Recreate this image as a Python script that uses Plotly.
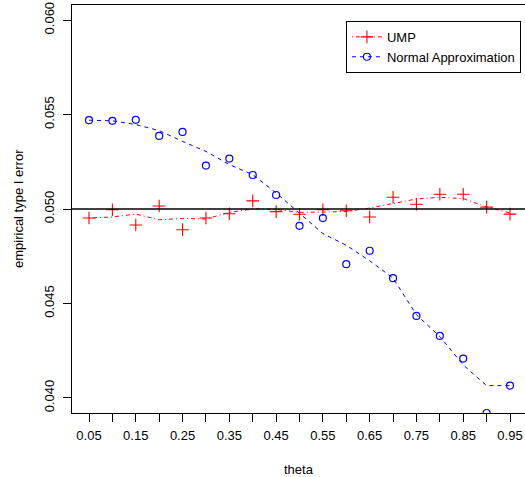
import plotly.graph_objects as go

theta = [0.05, 0.10, 0.15, 0.20, 0.25, 0.30, 0.35, 0.40, 0.45, 0.50,
         0.55, 0.60, 0.65, 0.70, 0.75, 0.80, 0.85, 0.90, 0.95]
ump = [0.04952, 0.04996, 0.04915, 0.05016, 0.04890, 0.04952, 0.04975, 0.05043, 0.04986, 0.04972,
       0.04996, 0.04991, 0.04958, 0.05062, 0.05025, 0.05078, 0.05078, 0.05010, 0.04973]
normal = [0.05470, 0.05467, 0.05472, 0.05387, 0.05408, 0.05230, 0.05267, 0.05180, 0.05074, 0.04911,
          0.04952, 0.04708, 0.04779, 0.04634, 0.04434, 0.04328, 0.04208, 0.03920, 0.04065]
ump_smooth = [0.04952, 0.04958, 0.04973, 0.04943, 0.04950, 0.04947, 0.04982, 0.05000, 0.04998, 0.04982,
              0.04984, 0.04987, 0.05005, 0.05028, 0.05053, 0.05062, 0.05055, 0.05011, 0.04979]
normal_smooth = [0.05470, 0.05467, 0.05447, 0.05415, 0.05358, 0.05305, 0.05235, 0.05182, 0.05085, 0.04979,
                 0.04870, 0.04808, 0.04726, 0.04634, 0.04440, 0.04325, 0.04174, 0.04065, 0.04065]

x_ticks = theta
x_ticktext = ["0.05", "", "0.15", "", "0.25", "", "0.35", "", "0.45", "",
              "0.55", "", "0.65", "", "0.75", "", "0.85", "", "0.95"]
y_ticks = [0.040, 0.045, 0.050, 0.055, 0.060]
y_ticktext = ["0.040", "0.045", "0.050", "0.055", "0.060"]

RED = "#FF0000"
BLUE = "#0000FF"
FONT = "Liberation Sans, Arial, Helvetica, sans-serif"

fig = go.Figure()

# smoothed lines (not in legend)
fig.add_trace(go.Scatter(x=theta, y=ump_smooth, mode="lines", showlegend=False,
                         line=dict(color=RED, width=1, dash="1px,3px,4px,3px"), hoverinfo="skip"))
fig.add_trace(go.Scatter(x=theta, y=normal_smooth, mode="lines", showlegend=False,
                         line=dict(color=BLUE, width=1, dash="4px,4px"), hoverinfo="skip"))

# points
fig.add_trace(go.Scatter(x=theta, y=ump, mode="markers", name="UMP",
                         marker=dict(symbol="cross-thin-open", size=9, color=RED,
                                     line=dict(color=RED, width=1.1)),
                         showlegend=False))
fig.add_trace(go.Scatter(x=theta, y=normal, mode="markers", name="Normal Approximation",
                         marker=dict(symbol="circle-open", size=7, color=BLUE,
                                     line=dict(color=BLUE, width=1.2)),
                         showlegend=False))

# legend entries
fig.add_trace(go.Scatter(x=[None], y=[None], mode="lines+markers", name="UMP",
                         line=dict(color=RED, width=1, dash="1px,3px,4px,3px"),
                         marker=dict(symbol="cross-thin-open", size=9, color=RED,
                                     line=dict(color=RED, width=1.1))))
fig.add_trace(go.Scatter(x=[None], y=[None], mode="lines+markers", name="Normal Approximation",
                         line=dict(color=BLUE, width=1, dash="4px,4px"),
                         marker=dict(symbol="circle-open", size=7, color=BLUE,
                                     line=dict(color=BLUE, width=1.2))))

fig.add_shape(type="line", xref="paper", x0=0, x1=1, yref="y", y0=0.05, y1=0.05,
              line=dict(color="black", width=1.4))

fig.update_layout(
    width=525, height=477,
    margin=dict(l=72, r=0, t=5, b=64),
    paper_bgcolor="white", plot_bgcolor="white",
    font=dict(family=FONT, size=13, color="black"),
    legend=dict(x=0.991, y=0.961, xanchor="right", yanchor="top",
                bordercolor="black", borderwidth=1, bgcolor="white",
                font=dict(size=13), tracegroupgap=0, itemwidth=30),
    annotations=[
        dict(text="theta", x=0.5, xref="paper", y=-(469 - 413) / 408, yref="paper",
             showarrow=False, xanchor="center", yanchor="middle", font=dict(size=13)),
        dict(text="empirical type I error", x=-(72 - 18) / 453, xref="paper", y=0.5, yref="paper",
             showarrow=False, xanchor="center", yanchor="middle", textangle=-90, font=dict(size=13)),
    ],
)

fig.update_xaxes(range=[0.01366, 0.98207], tickmode="array", tickvals=x_ticks, ticktext=x_ticktext,
                 ticks="outside", ticklen=8, tickwidth=1, tickcolor="black", ticklabelstandoff=2,
                 showline=True, linecolor="black", linewidth=1, mirror=True,
                 showgrid=False, zeroline=False, tickfont=dict(size=13))
fig.update_yaxes(range=[0.0392, 0.0608], tickmode="array", tickvals=y_ticks, ticktext=y_ticktext,
                 ticks="outside", ticklen=8, tickwidth=1, tickcolor="black", tickangle=-90,
                 ticklabelstandoff=4,
                 showline=True, linecolor="black", linewidth=1, mirror=False,
                 showgrid=False, zeroline=False, tickfont=dict(size=13))

fig.write_html("out.html", config={"displayModeBar": False},
               post_script="document.body.style.margin='0';document.body.style.overflow='hidden';")
